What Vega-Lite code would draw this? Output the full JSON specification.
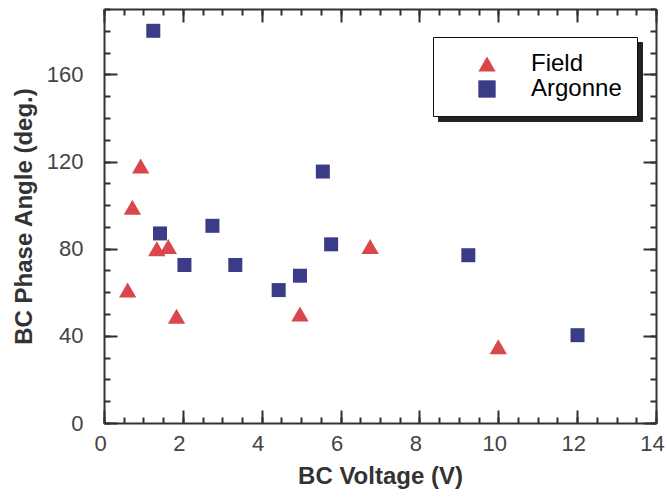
{
  "$schema": "https://vega.github.io/schema/vega-lite/v6.json",
  "autosize": "none",
  "width": 552,
  "height": 414,
  "padding": {"left": 104, "top": 9, "right": 11, "bottom": 74},
  "background": "white",
  "config": {
    "view": {"stroke": null},
    "axis": {
      "grid": false,
      "domainColor": "#333333",
      "domainWidth": 2,
      "tickColor": "#2f2f2f",
      "tickWidth": 2,
      "labelFont": "Liberation Sans",
      "labelFontSize": 22,
      "labelColor": "#444444",
      "titleFont": "Liberation Sans",
      "titleFontSize": 24,
      "titleFontWeight": "bold",
      "titleColor": "#333333",
      "labelOverlap": false,
      "labelFlush": false
    }
  },
  "data": {
    "values": [
      {"series": "Field", "voltage": 0.6, "phase": 61},
      {"series": "Field", "voltage": 0.72, "phase": 99},
      {"series": "Field", "voltage": 0.93, "phase": 118},
      {"series": "Field", "voltage": 1.34, "phase": 80},
      {"series": "Field", "voltage": 1.63, "phase": 81},
      {"series": "Field", "voltage": 1.84, "phase": 49},
      {"series": "Field", "voltage": 4.97, "phase": 50},
      {"series": "Field", "voltage": 6.75, "phase": 81},
      {"series": "Field", "voltage": 10.0, "phase": 35},
      {"series": "Argonne", "voltage": 1.25, "phase": 180},
      {"series": "Argonne", "voltage": 1.42, "phase": 87},
      {"series": "Argonne", "voltage": 2.04, "phase": 72.5},
      {"series": "Argonne", "voltage": 2.75, "phase": 90.5},
      {"series": "Argonne", "voltage": 3.33, "phase": 72.5},
      {"series": "Argonne", "voltage": 4.43, "phase": 61},
      {"series": "Argonne", "voltage": 4.97, "phase": 67.6},
      {"series": "Argonne", "voltage": 5.55, "phase": 115.4},
      {"series": "Argonne", "voltage": 5.76, "phase": 82},
      {"series": "Argonne", "voltage": 9.24, "phase": 77},
      {"series": "Argonne", "voltage": 12.01, "phase": 40.3}
    ]
  },
  "resolve": {
    "axis": {"x": "independent", "y": "independent"},
    "legend": {"color": "independent", "shape": "independent"}
  },
  "layer": [
    {
      "mark": {"type": "point", "opacity": 0},
      "encoding": {
        "x": {
          "field": "voltage", "type": "quantitative",
          "scale": {"domain": [0, 14], "nice": false, "zero": false},
          "axis": {
            "orient": "top", "title": null, "labels": false, "domain": false,
            "values": [0,0.5,1,1.5,2,2.5,3,3.5,4,4.5,5,5.5,6,6.5,7,7.5,8,8.5,9,9.5,10,10.5,11,11.5,12,12.5,13,13.5,14],
            "tickSize": -6
          }
        },
        "y": {
          "field": "phase", "type": "quantitative",
          "scale": {"domain": [0, 190], "nice": false, "zero": false},
          "axis": {
            "orient": "right", "title": null, "labels": false, "domain": false,
            "values": [0,10,20,30,40,50,60,70,80,90,100,110,120,130,140,150,160,170,180,190],
            "tickSize": -6
          }
        }
      }
    },
    {
      "mark": {"type": "point", "opacity": 0},
      "encoding": {
        "x": {
          "field": "voltage", "type": "quantitative",
          "axis": {
            "orient": "bottom", "title": null, "labels": false, "domain": false,
            "values": [0,0.5,1,1.5,2,2.5,3,3.5,4,4.5,5,5.5,6,6.5,7,7.5,8,8.5,9,9.5,10,10.5,11,11.5,12,12.5,13,13.5,14],
            "tickSize": -6
          }
        },
        "y": {
          "field": "phase", "type": "quantitative",
          "axis": {
            "orient": "left", "title": null, "labels": false, "domain": false,
            "values": [0,10,20,30,40,50,60,70,80,90,100,110,120,130,140,150,160,170,180,190],
            "tickSize": -6
          }
        }
      }
    },
    {
      "transform": [{"filter": "datum.series === 'Argonne'"}],
      "mark": {"type": "point", "filled": true, "opacity": 1, "size": 196},
      "encoding": {
        "x": {
          "field": "voltage", "type": "quantitative",
          "axis": {
            "orient": "top", "title": null, "labels": false,
            "values": [0,2,4,6,8,10,12,14],
            "tickSize": -13
          }
        },
        "y": {
          "field": "phase", "type": "quantitative",
          "axis": {
            "orient": "right", "title": null, "labels": false,
            "values": [0,40,80,120,160],
            "tickSize": -13
          }
        },
        "color": {
          "field": "series", "type": "nominal",
          "scale": {"domain": ["Field", "Argonne"], "range": ["#d9474c", "#3b3c87"]},
          "legend": {
            "orient": "none", "legendX": 334, "legendY": 33,
            "title": null,
            "strokeColor": "#222222",
            "fillColor": "#222222",
            "padding": 15,
            "symbolOffset": 27,
            "labelOffset": 32,
            "rowPadding": 1,
            "symbolSize": 300,
            "labelFont": "Liberation Sans",
            "labelFontSize": 24,
            "labelColor": "#222222"
          }
        },
        "shape": {
          "field": "series", "type": "nominal",
          "scale": {"domain": ["Field", "Argonne"], "range": ["triangle-up", "square"]}
        }
      }
    },
    {
      "transform": [{"filter": "datum.series === 'Field'"}],
      "mark": {"type": "point", "filled": true, "opacity": 1, "size": 300},
      "encoding": {
        "x": {
          "field": "voltage", "type": "quantitative",
          "axis": {
            "orient": "bottom", "title": "BC Voltage (V)",
            "values": [0,2,4,6,8,10,12,14],
            "tickSize": -13,
            "labelPadding": 23,
            "labelOffset": -4,
            "titlePadding": 10
          }
        },
        "y": {
          "field": "phase", "type": "quantitative",
          "axis": {
            "orient": "left", "title": "BC Phase Angle (deg.)",
            "values": [0,40,80,120,160],
            "tickSize": -13,
            "labelPadding": 34,
            "titlePadding": 10
          }
        },
        "color": {
          "field": "series", "type": "nominal",
          "legend": {
            "orient": "none", "legendX": 329, "legendY": 28,
            "title": null,
            "strokeColor": "#111111",
            "fillColor": "white",
            "padding": 15,
            "symbolOffset": 27,
            "labelOffset": 32,
            "rowPadding": 1,
            "symbolSize": 300,
            "labelFont": "Liberation Sans",
            "labelFontSize": 24,
            "encode": {
              "legend": {"update": {"strokeWidth": {"value": 2}}},
              "labels": {"update": {"fill": {"signal": "datum.label === 'Field' ? '#d9474c' : '#3b3c87'"}}}
            }
          }
        },
        "shape": {"field": "series", "type": "nominal"}
      }
    }
  ]
}
